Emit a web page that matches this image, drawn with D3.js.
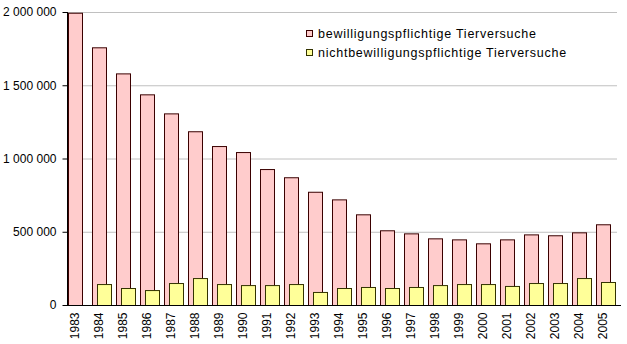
<!DOCTYPE html>
<html><head><meta charset="utf-8">
<script src="https://cdn.jsdelivr.net/npm/d3@7"></script>
<style>body{margin:0;background:#fff}svg{display:block;font-family:"Liberation Sans",Arial,sans-serif}</style>
</head><body><svg id="c" width="627" height="344"></svg>
<script>
const years = ["1983","1984","1985","1986","1987","1988","1989","1990","1991","1992","1993","1994","1995","1996","1997","1998","1999","2000","2001","2002","2003","2004","2005"];
const bewilligungspflichtig = [1995000,1759000,1581000,1438000,1308000,1186000,1085000,1044000,928000,872000,773000,721000,619000,510000,489000,455000,448000,421000,448000,482000,476000,496000,551000];
const nichtbewilligungspflichtig = [null,143000,116000,102000,150000,184000,143000,136000,136000,143000,89000,116000,123000,116000,123000,136000,143000,143000,130000,150000,150000,184000,157000];
const yTicks = [0,500000,1000000,1500000,2000000];
const seriesNames = ["bewilligungspflichtige Tierversuche","nichtbewilligungspflichtige Tierversuche"];
const colors = ["#FFCCCC","#FFFF99"];
const strokes = ["#3a0000","#333300"];

const svg = d3.select("#c");
const L=67, R=619, T=12, B=305;
const x = d3.scaleBand().domain(years).range([L,R]).padding(0);
const y = d3.scaleLinear().domain([0,2000000]).range([B,T]);
const fmt = v => d3.format(",")(v).replace(/,/g," ");

// grid
svg.append("g").selectAll("line").data(yTicks.filter(d=>d>0)).join("line")
  .attr("x1",L).attr("x2",617).attr("y1",d=>y(d)+0.5).attr("y2",d=>y(d)+0.5)
  .attr("stroke","#c0c0c0");

// y axis
const ya = svg.append("g").attr("transform",`translate(${L+0.5},0)`)
  .call(d3.axisLeft(y).tickValues(yTicks).tickFormat(fmt).tickSize(5).tickPadding(6));
ya.select(".domain").attr("d",`M0,${T}V${B}`).attr("stroke","#000");
ya.selectAll(".tick line").attr("stroke","#000");
ya.selectAll(".tick text").attr("font-size","12px").attr("fill","#000").attr("font-family","Liberation Sans, Arial, sans-serif");

const bw = 14;
// series 1
svg.append("g").selectAll("rect").data(years.map((d,i)=>({k:d,v:bewilligungspflichtig[i]}))).join("rect")
  .attr("x",d=>x(d.k)+1.5).attr("width",bw)
  .attr("y",d=>y(d.v)+0.5).attr("height",d=>B-y(d.v))
  .attr("fill",colors[0]).attr("stroke",strokes[0]);
// series 2
svg.append("g").selectAll("rect").data(years.map((d,i)=>({k:d,v:nichtbewilligungspflichtig[i]})).filter(d=>d.v!=null)).join("rect")
  .attr("x",d=>x(d.k)+6.5).attr("width",bw)
  .attr("y",d=>y(d.v)+0.5).attr("height",d=>B-y(d.v))
  .attr("fill",colors[1]).attr("stroke",strokes[1]);

// x axis
const xa = svg.append("g").attr("transform",`translate(0,${B+0.5})`)
  .call(d3.axisBottom(x).tickSize(0).tickSizeOuter(0));
xa.select(".domain").attr("d",`M${L},0H${R+2}`).attr("stroke","#000");
xa.selectAll(".tick text")
  .attr("transform",function(){return `translate(${-12+7.5},7) rotate(-90)`;})
  .attr("text-anchor","end").attr("x",0).attr("y",0).attr("dy","0.35em")
  .attr("font-size","12px").attr("fill","#000").attr("font-family","Liberation Sans, Arial, sans-serif");

// legend
const lg = svg.append("g");
seriesNames.forEach((n,i)=>{
  const yy = 30 + i*19;
  lg.append("rect").attr("x",306.5).attr("y",yy+0.5).attr("width",6).attr("height",6)
    .attr("fill",colors[i]).attr("stroke",strokes[i]);
  lg.append("text").attr("x",318).attr("y",yy+8).text(n).attr("font-size","12.5px")
    .attr("letter-spacing","0.75px")
    .attr("font-family","Liberation Sans, Arial, sans-serif").attr("fill","#000");
});
</script></body></html>
